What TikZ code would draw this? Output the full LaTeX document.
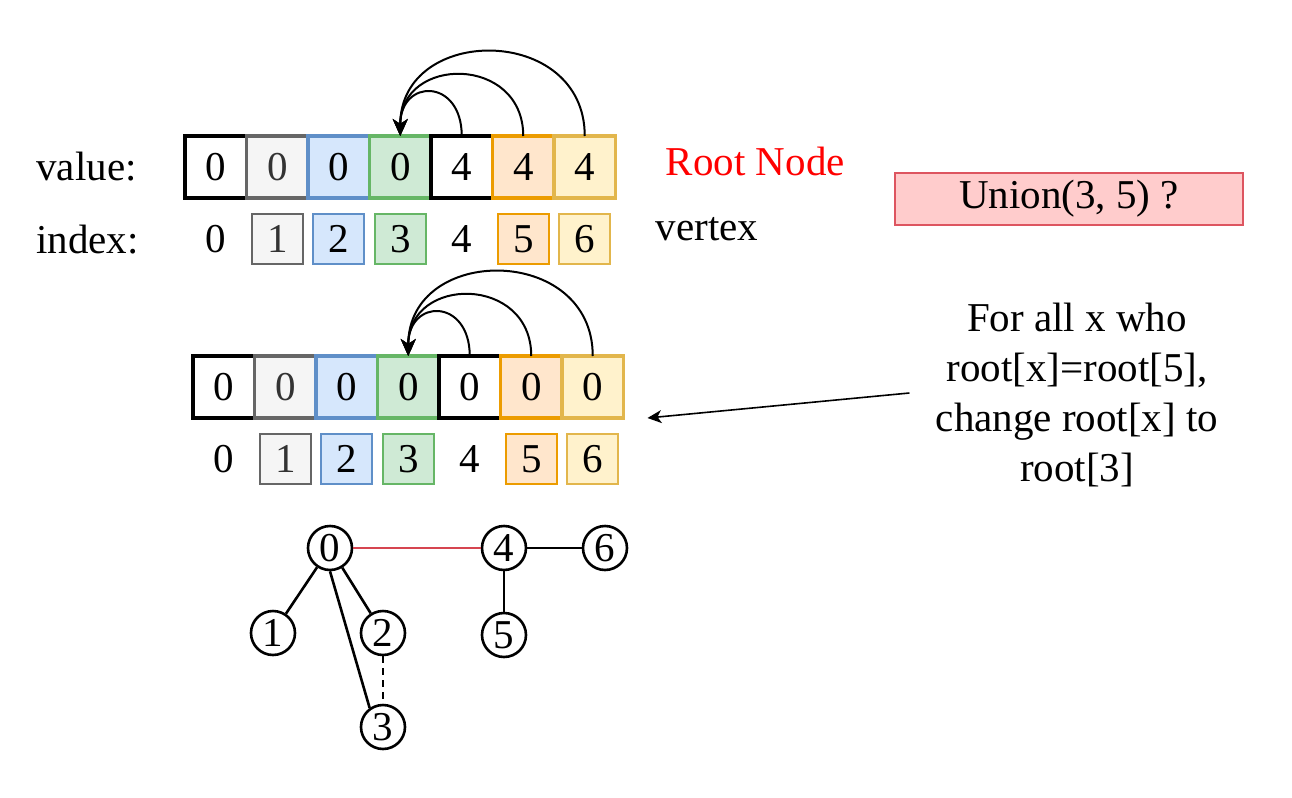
\documentclass[tikz,border=0pt]{standalone}
\usepackage{fontspec}
\setmainfont{LiberationSerif}[Extension=.ttf, UprightFont=*-Regular, BoldFont=*-Bold, ItalicFont=*-Italic, BoldItalicFont=*-BoldItalic]
\usepackage{xcolor}
\usepackage{tikz}
\usetikzlibrary{positioning, arrows.meta}

\definecolor{greyfill}{HTML}{F5F5F5}
\definecolor{greyline}{HTML}{666666}
\definecolor{greytext}{HTML}{333333}
\definecolor{bluefill}{HTML}{D6E7FC}
\definecolor{blueline}{HTML}{5F8FC8}
\definecolor{greenfill}{HTML}{CFEAD5}
\definecolor{greenline}{HTML}{66B666}
\definecolor{orangefill}{HTML}{FFE6CC}
\definecolor{orangeline}{HTML}{EC9C00}
\definecolor{yellowfill}{HTML}{FFF2CC}
\definecolor{yellowline}{HTML}{E2B64C}
\definecolor{queryfill}{HTML}{FFCCCC}
\definecolor{queryline}{HTML}{DD5560}
\definecolor{rootred}{HTML}{FF0000}
\definecolor{unionred}{HTML}{D64550}

\begin{document}
\begin{tikzpicture}[
    x=0.5pt, y=-0.5pt,
    every node/.style={font=\rmfamily\fontsize{20.5}{25}\selectfont},
    cell/.style={rectangle, draw, line width=1.7pt, minimum width=30.75pt, minimum height=31pt, inner sep=0pt, outer sep=0pt},
    slot/.style={rectangle, line width=1.1pt, minimum width=25.5pt, minimum height=25pt, inner sep=0pt},
    plainc/.style={fill=white, draw=black},
    nonec/.style={},
    greyc/.style={fill=greyfill, draw=greyline, text=greytext},
    bluec/.style={fill=bluefill, draw=blueline},
    greenc/.style={fill=greenfill, draw=greenline},
    orangec/.style={fill=orangefill, draw=orangeline},
    yellowc/.style={fill=yellowfill, draw=yellowline},
    lbl/.style={inner sep=0pt},
    query/.style={rectangle, fill=queryfill, draw=queryline, line width=1pt, minimum width=174pt, minimum height=26pt},
    note/.style={align=center, inner sep=0pt},
    vtx/.style={circle, draw=black, line width=1.3pt, minimum size=22pt, inner sep=0pt},
    link/.style={line width=1.3pt},
    ptr/.style={line width=1pt, -{Stealth[length=8.5pt, width=7.5pt, inset=2.5pt]}},
    hint/.style={line width=0.8pt, -{Stealth[length=7pt, width=6.5pt, inset=2pt]}}
  ]
  \useasboundingbox (0,0) rectangle (1292,798);

  % value / index before union
  \node[cell, plainc] (t0) at (215.75,167) {0};
  \foreach \i/\c/\v [evaluate=\i as \j using int(\i-1)] in {1/greyc/0, 2/bluec/0, 3/greenc/0, 4/plainc/4, 5/orangec/4, 6/yellowc/4}
    \node[cell, \c, right=0pt of t\j] (t\i) {\v};
  \foreach \i/\s in {0/nonec, 1/greyc, 2/bluec, 3/greenc, 4/nonec, 5/orangec, 6/yellowc}
    \node[slot, \s, below=7.5pt of t\i] (ti\i) {\i};

  \node[lbl, left=24pt of t0] (valuelbl) {value:};
  \node[lbl, left=25pt of ti0] (indexlbl) {index:};
  \node[lbl, text=rootred, right=25pt of t6, yshift=3pt] (rootlbl) {Root Node};
  \node[lbl, right=22pt of ti6, yshift=5pt] (vertexlbl) {vertex};

  \draw[ptr] (t4.north) .. controls +(0,-58) and +(0,-58) .. (t3.north);
  \draw[ptr] (t5.north) .. controls +(0,-81) and +(0,-81) .. (t3.north);
  \draw[ptr] (t6.north) .. controls +(0,-112) and +(0,-112) .. (t3.north);

  \node[query] (union) at (1069,199) {Union(3, 5) ?};

  % value / index after union
  \node[cell, plainc] (m0) at (223.75,387) {0};
  \foreach \i/\c [evaluate=\i as \j using int(\i-1)] in {1/greyc, 2/bluec, 3/greenc, 4/plainc, 5/orangec, 6/yellowc}
    \node[cell, \c, right=0pt of m\j] (m\i) {0};
  \foreach \i/\s in {0/nonec, 1/greyc, 2/bluec, 3/greenc, 4/nonec, 5/orangec, 6/yellowc}
    \node[slot, \s, below=7.5pt of m\i] (mi\i) {\i};

  \draw[ptr] (m4.north) .. controls +(0,-58) and +(0,-58) .. (m3.north);
  \draw[ptr] (m5.north) .. controls +(0,-81) and +(0,-81) .. (m3.north);
  \draw[ptr] (m6.north) .. controls +(0,-112) and +(0,-112) .. (m3.north);

  \node[note] (note) at (1077,395) {For all x who\\root[x]=root[5],\\change root[x] to\\root[3]};
  \coordinate (src) at ([xshift=-13pt, yshift=1pt]note.west);
  \coordinate (dst) at ([xshift=12pt]m6.south east);
  \draw[hint] (src) -- (dst);

  % graph
  \node[vtx] (v0) at (330,548) {0};
  \node[vtx] (v4) at (504,548) {4};
  \node[vtx] (v6) at (605,548) {6};
  \node[vtx] (v1) at (273,633) {1};
  \node[vtx] (v2) at (383,633) {2};
  \node[vtx] (v5) at (504,635) {5};
  \node[vtx] (v3) at (383,727) {3};

  \draw[link, draw=unionred] (v0) -- (v4);
  \draw[link] (v4) -- (v6);
  \draw[link] (v4) -- (v5);
  \draw[link] (v0) -- (v1);
  \draw[link] (v0) -- (v2);
  \draw[link] (v0.south) -- (v3.125);
  \draw[link, dash pattern=on 3.5pt off 2.5pt] (v2) -- (v3);

\end{tikzpicture}
\end{document}
